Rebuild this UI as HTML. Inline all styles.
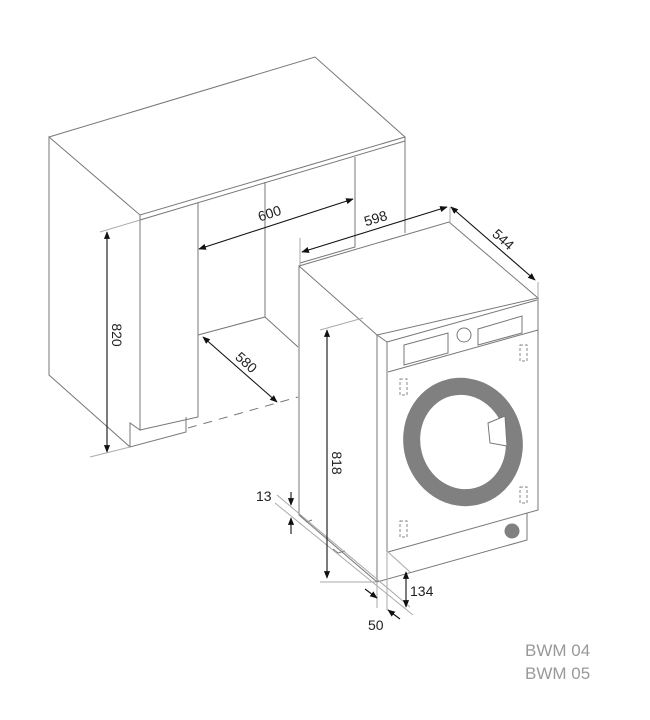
<!DOCTYPE html>
<html><head><meta charset="utf-8"><style>
html,body{margin:0;padding:0;background:#fff;}
svg{display:block}
text{font-family:"Liberation Sans",sans-serif;fill:#222;font-size:14px}
</style></head><body>
<svg width="650" height="720" viewBox="0 0 650 720" xmlns="http://www.w3.org/2000/svg">
<defs>
<marker id="a" viewBox="0 0 10 10" refX="9" refY="5" markerWidth="7" markerHeight="7" orient="auto-start-reverse"><path d="M0,1 L10,5 L0,9 z" fill="#111"/></marker>
</defs>
<g fill="none" stroke="#777" stroke-width="1">
<!-- cabinet -->
<path d="M49,137 L315,57 L405,137 L140,215 Z"/>
<path d="M140,220 L405,141"/>
<path d="M49,137 L49,375 L130,447 L186,432 L186,417"/>
<path d="M140,215 L140,430 L130,423 L130,447"/>
<path d="M140,430 L198,417 L198,203"/>
<path d="M265,182 L265,317 L198,335"/>
<path d="M265,317 L298,347"/>
<path d="M355,157 L355,247 L300,263"/>
<path d="M405,137 L405,233"/>
<path d="M188,428 L298,397" stroke-dasharray="9,7"/>
<!-- extension lines -->
<path d="M100,232 L140,220 M90,457 L130,447 M300,238 L300,266" stroke="#aaa"/>
<!-- washer -->
<path d="M299,266 L449,222 L538,298 L377,335 Z"/>
<path d="M299,266 L299,515 L377,582"/>
<path d="M377,335 L377,582 L527,540 L527,513"/>
<path d="M538,298 L538,510 L388,552"/>
<path d="M387,342 L537,300"/>
<path d="M387,342 L387,552"/>
<path d="M388,372 L538,330"/>
<path d="M377,335 L387,342"/>
<path d="M404,345 L448,333 L448,353 L404,365 Z"/>
<circle cx="464" cy="335" r="7"/>
<path d="M478,329 L522,316 L522,333 L478,345 Z"/>
<path d="M300,515 L307,522 L312,520 M333,549 L338,553 L345,551"/>
<path d="M320,330 L363,318 M320,582 L377,582" stroke="#aaa"/>
<path d="M277,495 L410,607 M275,503 L413,615" stroke="#aaa"/>
<path d="M377,582 L377,608 M387,552 L387,610 M450,207 L450,222 M538,282 L538,298" stroke="#aaa"/>
<path d="M388,552 L410,572" stroke="#aaa"/>
</g>
<!-- door -->
<g transform="rotate(-15 463 442)">
<ellipse cx="463" cy="442" rx="51" ry="56" fill="none" stroke="#808080" stroke-width="17"/>
</g>
<path d="M488,423 L505,416 L507,446 L490,443 Z" fill="#fff" stroke="#777"/>
<circle cx="512" cy="531" r="7.5" fill="#808080"/>
<g fill="none" stroke="#888" stroke-dasharray="3,2">
<rect x="400" y="379" width="7" height="16"/>
<rect x="520" y="345" width="7" height="16"/>
<rect x="520" y="487" width="7" height="16"/>
<rect x="400" y="521" width="7" height="16"/>
</g>
<!-- dimension arrows -->
<g stroke="#111" stroke-width="1.1" marker-start="url(#a)" marker-end="url(#a)">
<line x1="199" y1="249" x2="353" y2="199"/>
<line x1="302" y1="252" x2="447" y2="207"/>
<line x1="107" y1="232" x2="107" y2="452"/>
<line x1="203" y1="337" x2="277" y2="402"/>
<line x1="327" y1="330" x2="327" y2="578"/>
<line x1="451" y1="207" x2="535" y2="280"/>
<line x1="406" y1="572" x2="406" y2="607"/>
</g>
<g stroke="#111" stroke-width="1.1" marker-end="url(#a)">
<line x1="291" y1="492" x2="291" y2="505"/>
<line x1="291" y1="534" x2="291" y2="518"/>
<line x1="365" y1="589" x2="377" y2="598"/>
<line x1="400" y1="619" x2="388" y2="610"/>
</g>
<text transform="translate(271,218) rotate(-18)" text-anchor="middle">600</text>
<text transform="translate(377,223) rotate(-17)" text-anchor="middle">598</text>
<text transform="translate(112,335) rotate(90)" text-anchor="middle">820</text>
<text transform="translate(243,366) rotate(42)" text-anchor="middle">580</text>
<text transform="translate(332,463) rotate(90)" text-anchor="middle">818</text>
<text transform="translate(500,243) rotate(42)" text-anchor="middle">544</text>
<text x="410" y="596">134</text>
<text x="256" y="501">13</text>
<text x="368" y="630">50</text>
<text x="525" y="656" style="fill:#999;font-size:17px">BWM 04</text>
<text x="525" y="679" style="fill:#999;font-size:17px">BWM 05</text>
</svg>
</body></html>
